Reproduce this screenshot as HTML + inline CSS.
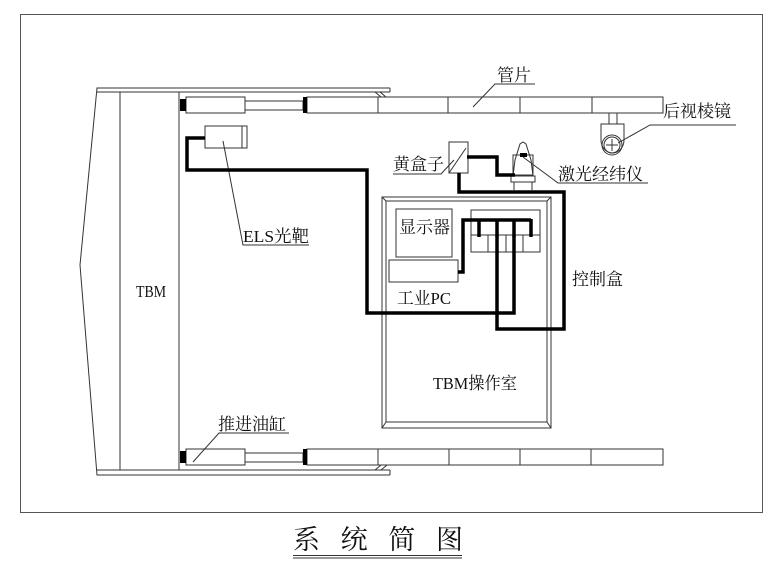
<!DOCTYPE html>
<html><head><meta charset="utf-8"><style>
html,body{margin:0;padding:0;background:#fff;}
svg{display:block;}
text{font-family:"Liberation Serif","Noto Serif CJK SC",serif;fill:#111;}
</style></head><body>
<svg width="780" height="568" viewBox="0 0 780 568" xmlns="http://www.w3.org/2000/svg">
<g fill="none" stroke="#333" stroke-width="1">
<rect x="20.5" y="14.5" width="742" height="498" stroke="#555"/>
<polyline points="390,88 97,88 80,265 97,475 390,475"/>
<line x1="97" y1="92" x2="390" y2="92"/>
<line x1="97" y1="470" x2="390" y2="470"/>
<line x1="390" y1="88" x2="390" y2="92"/>
<line x1="390" y1="470" x2="390" y2="475"/>
<line x1="380" y1="92" x2="386" y2="97"/><line x1="375" y1="92" x2="381" y2="97"/>
<line x1="381" y1="465" x2="375" y2="470"/><line x1="387" y1="465" x2="381" y2="470"/>
<line x1="120" y1="92" x2="120" y2="470"/>
<line x1="179" y1="92" x2="179" y2="470"/>
<rect x="186" y="97" width="59" height="16"/>
<rect x="245" y="101" width="58" height="9"/>
<rect x="307" y="97" width="356" height="16"/>
<line x1="378" y1="97" x2="378" y2="113"/><line x1="448" y1="97" x2="448" y2="113"/>
<line x1="520" y1="97" x2="520" y2="113"/><line x1="592" y1="97" x2="592" y2="113"/>
<rect x="186" y="449" width="59" height="16"/>
<rect x="245" y="453" width="58" height="9"/>
<rect x="307" y="449" width="356" height="16"/>
<line x1="378" y1="449" x2="378" y2="465"/><line x1="449" y1="449" x2="449" y2="465"/>
<line x1="520" y1="449" x2="520" y2="465"/><line x1="591" y1="449" x2="591" y2="465"/>
<rect x="205" y="126" width="42" height="22"/>
<line x1="242" y1="126" x2="242" y2="148"/>
<polyline points="223,141 243,245 309,245"/>
<line x1="609" y1="113" x2="609" y2="124"/><line x1="617" y1="113" x2="617" y2="124"/>
<path d="M601,124 H624 V140 A11.5,13 0 0 1 601,140 Z"/>
<circle cx="612" cy="145" r="10"/><circle cx="612" cy="145" r="8"/>
<line x1="612" y1="139" x2="612" y2="151"/><line x1="606" y1="145" x2="618" y2="145"/>
<polyline points="618,143 650,125 736,125"/>
<polyline points="473,107 495,84 535,84"/>
<polyline points="454,160 441,174 393,174"/>
<polyline points="523,157 558,183 648,183"/>
<polyline points="193,462 219,433 289,433"/>
<rect x="449" y="142" width="19" height="31"/>
<line x1="449" y1="173" x2="466" y2="148"/>
<path d="M513,176 L515,160 L520,144 L523,142 L526,144 L531,160 L533,176 Z"/>
<rect x="513" y="155" width="20" height="20"/>
<rect x="511" y="176" width="24" height="6"/>
<line x1="514" y1="182" x2="514" y2="190"/><line x1="532" y1="182" x2="532" y2="190"/>
<rect x="382" y="197" width="169" height="231"/>
<rect x="386" y="201" width="161" height="221"/>
<line x1="382" y1="197" x2="386" y2="201"/><line x1="551" y1="197" x2="547" y2="201"/>
<line x1="382" y1="428" x2="386" y2="422"/><line x1="551" y1="428" x2="547" y2="422"/>
<rect x="396" y="209" width="56" height="48"/>
<rect x="389" y="260" width="69" height="22"/>
<rect x="471" y="210" width="69" height="42"/>
<line x1="471" y1="235" x2="540" y2="235"/>
<line x1="488" y1="235" x2="488" y2="252"/><line x1="506" y1="235" x2="506" y2="252"/><line x1="523" y1="235" x2="523" y2="252"/>
</g>
<g fill="#000">
<rect x="180" y="99" width="6" height="12"/><rect x="303" y="97" width="4" height="16"/>
<rect x="180" y="451" width="6" height="12"/><rect x="303" y="449" width="4" height="16"/>
<rect x="520" y="153" width="7" height="4"/>
</g>
<g fill="none" stroke="#000" stroke-width="3.5" stroke-linejoin="miter">
<polyline points="205,138 187,138 187,170 367,170 367,313 514,313 514,236"/>
<polyline points="497,236 497,329 564,329 564,192 459,192 459,173"/>
<polyline points="467,157 497,157 497,175 515,175"/>
<polyline points="458,272 463,272 463,220 531,220"/>
<line x1="479" y1="219" x2="479" y2="237"/><line x1="497" y1="219" x2="497" y2="237"/>
<line x1="514" y1="219" x2="514" y2="237"/><line x1="531" y1="219" x2="531" y2="237"/>
</g>
<g font-size="17">
<text x="497" y="81">管片</text>
<text x="663" y="117">后视棱镜</text>
<text x="393" y="170">黄盒子</text>
<text x="558" y="180">激光经纬仪</text>
<text x="243" y="242" textLength="66" lengthAdjust="spacingAndGlyphs">ELS光靶</text>
<text x="399" y="233">显示器</text>
<text x="397" y="304" textLength="54" lengthAdjust="spacingAndGlyphs">工业PC</text>
<text x="572" y="285">控制盒</text>
<text x="136" y="297" textLength="30" lengthAdjust="spacingAndGlyphs">TBM</text>
<text x="433" y="389" textLength="84" lengthAdjust="spacingAndGlyphs">TBM操作室</text>
<text x="218" y="430">推进油缸</text>
<text x="293" y="549" font-size="27" textLength="170" lengthAdjust="spacing">系 统 简 图</text>
</g>
<line x1="293" y1="555.5" x2="462" y2="555.5" stroke="#333"/>
<line x1="293" y1="558" x2="462" y2="558" stroke="#333"/>
</svg>
</body></html>
